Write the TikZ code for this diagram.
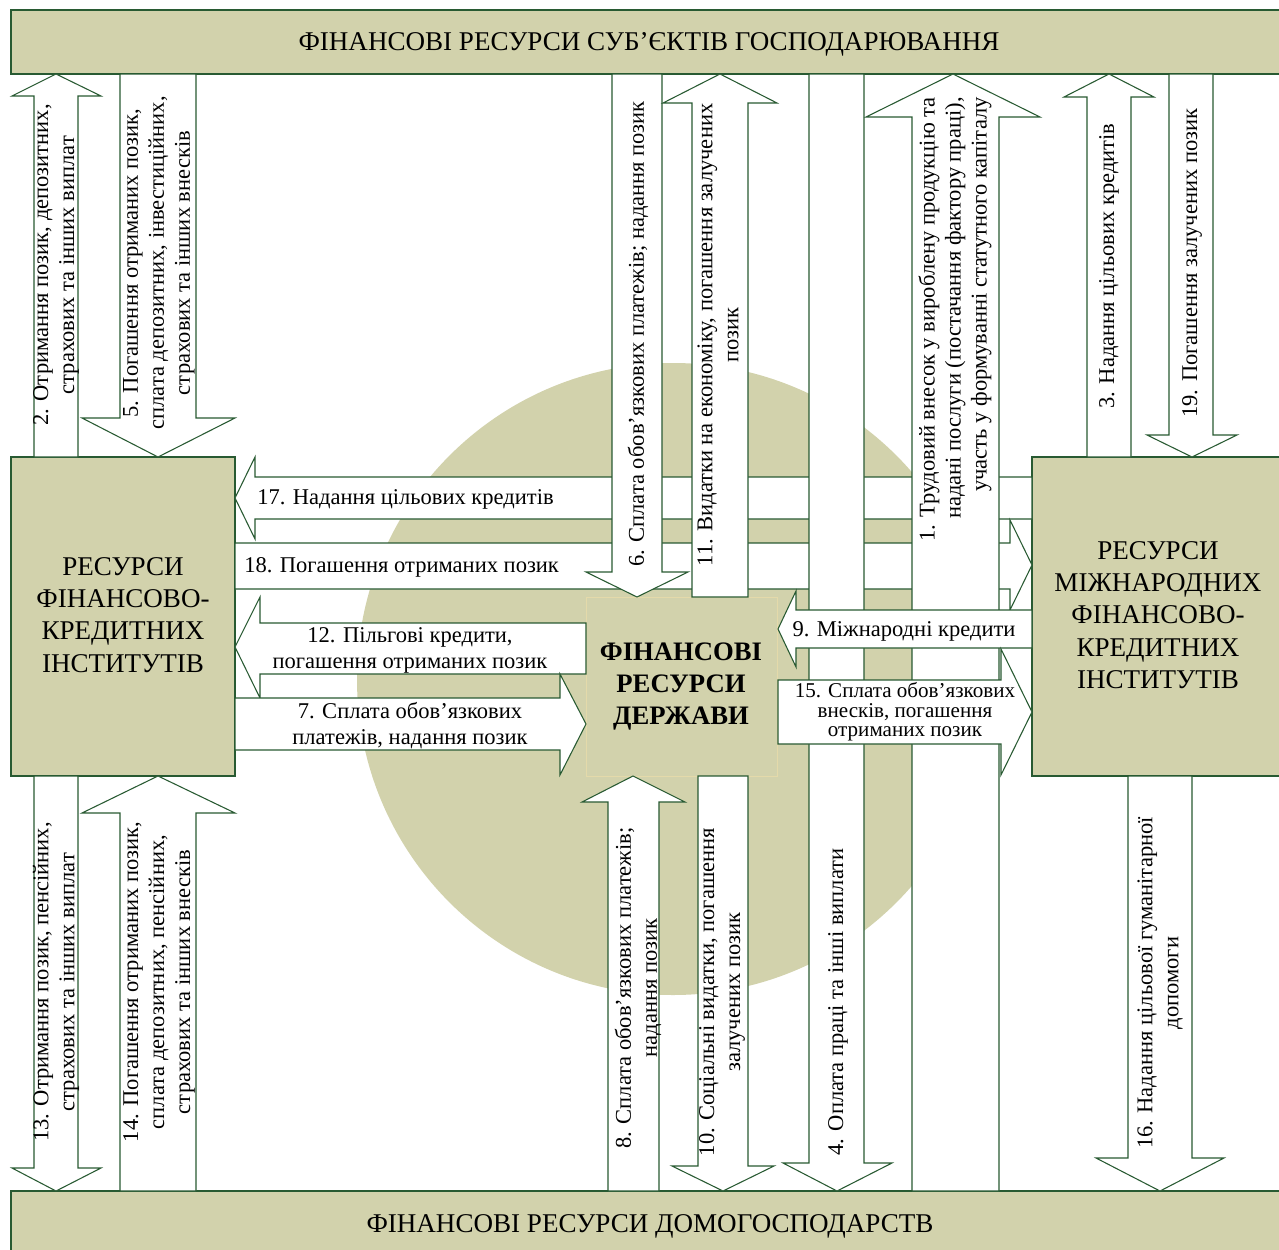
\documentclass[tikz,border=0pt]{standalone}
\usepackage{fontspec}
\setmainfont{Liberation Serif}
\definecolor{khaki}{RGB}{210,210,172}
\definecolor{dgreen}{RGB}{40,90,50}
\definecolor{tanline}{RGB}{228,218,170}
\begin{document}
\begin{tikzpicture}[x=0.75pt,y=-0.75pt,
  band/.style={fill=khaki,draw=dgreen,line width=0.9pt},
  barrow/.style={fill=white,draw=dgreen,line width=0.8pt,line join=miter},
  lbl/.style={font=\fontsize{16.9}{19.5}\selectfont,inner sep=0pt,align=center},
  vlbl/.style={lbl,rotate=90},
  big/.style={font=\fontsize{20.3}{24.2}\selectfont,inner sep=0pt,align=center}]
\useasboundingbox (0,0) rectangle (1279,1250);
\fill[white] (0,0) rectangle (1279,1250);
% circle and state box
\fill[khaki] (673,679) circle[radius=237pt];
\filldraw[fill=khaki,draw=tanline,line width=0.6pt] (586,597) rectangle (777,776);
% bands and boxes
\draw[band] (11,10) rectangle (1290,74);
\draw[band] (11,1191) rectangle (1290,1262);
\draw[band] (11,457) rectangle (235,776);
\draw[band] (1032,457) rectangle (1290,776);
% horizontal arrows 17, 18
\draw[barrow] (1032,477) -- (255,477) -- (255,457) -- (235,498) -- (255,539) -- (255,519) -- (1032,519) -- cycle;
\draw[barrow] (235,543) -- (1010,543) -- (1010,520) -- (1032,565) -- (1010,610) -- (1010,589) -- (235,589) -- cycle;
% vertical arrows 6, 11, 4, 1
\draw[barrow] (612,74) -- (612,572) -- (586,572) -- (637,597) -- (688,572) -- (662,572) -- (662,74) -- cycle;
\draw[barrow] (692,597) -- (692,103) -- (663,103) -- (720,74) -- (777,103) -- (748,103) -- (748,597) -- cycle;
\draw[barrow] (809,74) -- (809,1163) -- (783,1163) -- (837,1191) -- (892,1163) -- (864,1163) -- (864,74) -- cycle;
\draw[barrow] (912,1191) -- (912,117) -- (866,117) -- (953,74) -- (1040,117) -- (999,117) -- (999,1191) -- cycle;
% arrows 9, 15, 12, 7
\draw[barrow] (1032,610) -- (796,610) -- (796,591) -- (778,629) -- (796,667) -- (796,648) -- (1032,648) -- cycle;
\draw[barrow] (778,680) -- (1001,680) -- (1001,649) -- (1032,712) -- (1001,775) -- (1001,744) -- (778,744) -- cycle;
\draw[barrow] (586,623) -- (260,623) -- (260,597) -- (235,647) -- (260,698) -- (260,674) -- (586,674) -- cycle;
\draw[barrow] (235,698) -- (560,698) -- (560,674) -- (586,724) -- (560,775) -- (560,750) -- (235,750) -- cycle;
% outer vertical arrows
\draw[barrow] (34,457) -- (34,96) -- (12,96) -- (56,74) -- (101,96) -- (78,96) -- (78,457) -- cycle;
\draw[barrow] (120,74) -- (120,418) -- (82,418) -- (158,457) -- (235,418) -- (196,418) -- (196,74) -- cycle;
\draw[barrow] (34,776) -- (34,1168) -- (12,1168) -- (56,1191) -- (101,1168) -- (78,1168) -- (78,776) -- cycle;
\draw[barrow] (120,1191) -- (120,813) -- (82,813) -- (158,776) -- (235,813) -- (196,813) -- (196,1191) -- cycle;
\draw[barrow] (1087,457) -- (1087,97) -- (1064,97) -- (1109,74) -- (1154,97) -- (1131,97) -- (1131,457) -- cycle;
\draw[barrow] (1169,74) -- (1169,435) -- (1147,435) -- (1192,457) -- (1237,435) -- (1213,435) -- (1213,74) -- cycle;
\draw[barrow] (1128,776) -- (1128,1158) -- (1096,1158) -- (1160,1191) -- (1224,1158) -- (1192,1158) -- (1192,776) -- cycle;
\draw[barrow] (608,1191) -- (608,802) -- (582,802) -- (633,776) -- (685,802) -- (659,802) -- (659,1191) -- cycle;
\draw[barrow] (698,776) -- (698,1166) -- (672,1166) -- (723,1191) -- (774,1166) -- (748,1166) -- (748,776) -- cycle;
% box texts
\node[big,anchor=base] (tb) at (649,50) {ФІНАНСОВІ РЕСУРСИ СУБ’ЄКТІВ ГОСПОДАРЮВАННЯ};
\node[big,anchor=base] (bb) at (650,1232) {ФІНАНСОВІ РЕСУРСИ ДОМОГОСПОДАРСТВ};
\node[big] (fk) at (123,615) {РЕСУРСИ\\ФІНАНСОВО-\\КРЕДИТНИХ\\ІНСТИТУТІВ};
\node[big] (mf) at (1158,615) {РЕСУРСИ\\МІЖНАРОДНИХ\\ФІНАНСОВО-\\КРЕДИТНИХ\\ІНСТИТУТІВ};
\node[big,font=\bfseries\fontsize{20}{24}\selectfont] (st) at (681,687) {ФІНАНСОВІ\\РЕСУРСИ\\ДЕРЖАВИ};
% horizontal labels
\node[lbl,anchor=base west] (l17) at (257,504) {17. Надання цільових кредитів};
\node[lbl,anchor=base west] (l18) at (244,572) {18. Погашення отриманих позик};
\node[lbl,anchor=base] (l9) at (904,636) {9. Міжнародні кредити};
\node[lbl] (l12) at (410,650) {12. Пільгові кредити,\\погашення отриманих позик};
\node[lbl] (l7) at (410,726) {7. Сплата обов’язкових\\платежів, надання позик};
\node[lbl,font=\fontsize{15.8}{14.6}\selectfont] (l15) at (905,712) {15. Сплата обов’язкових\\внесків, погашення\\отриманих позик};
% vertical labels
\node[vlbl] (l2) at (56,265) {2. Отримання позик, депозитних,\\страхових та інших виплат};
\node[vlbl] (l5) at (159,263) {5. Погашення отриманих позик,\\сплата депозитних, інвестиційних,\\страхових та інших внесків};
\node[vlbl] (l13) at (56,982) {13. Отримання позик, пенсійних,\\страхових та інших виплат};
\node[vlbl] (l14) at (159,982) {14. Погашення отриманих позик,\\сплата депозитних, пенсійних,\\страхових та інших внесків};
\node[vlbl] (l6) at (638,334) {6. Сплата обов’язкових платежів; надання позик};
\node[vlbl] (l11) at (718,335) {11. Видатки на економіку, погашення залучених\\позик};
\node[vlbl,align=right,anchor=east] (l1) at (955,97) {1. Трудовий внесок у вироблену продукцію та\\надані послуги (постачання фактору праці),\\участь у формуванні статутного капіталу};
\node[vlbl] (l3) at (1109,266) {3. Надання цільових кредитів};
\node[vlbl] (l19) at (1192,263) {19. Погашення залучених позик};
\node[vlbl] (l16) at (1160,983) {16. Надання цільової гуманітарної\\допомоги};
\node[vlbl] (l8) at (638,988) {8. Сплата обов’язкових платежів;\\надання позик};
\node[vlbl] (l10) at (722,992) {10. Соціальні видатки, погашення\\залучених позик};
\node[vlbl] (l4) at (838,1002) {4. Оплата праці та інші виплати};
\end{tikzpicture}
\end{document}
